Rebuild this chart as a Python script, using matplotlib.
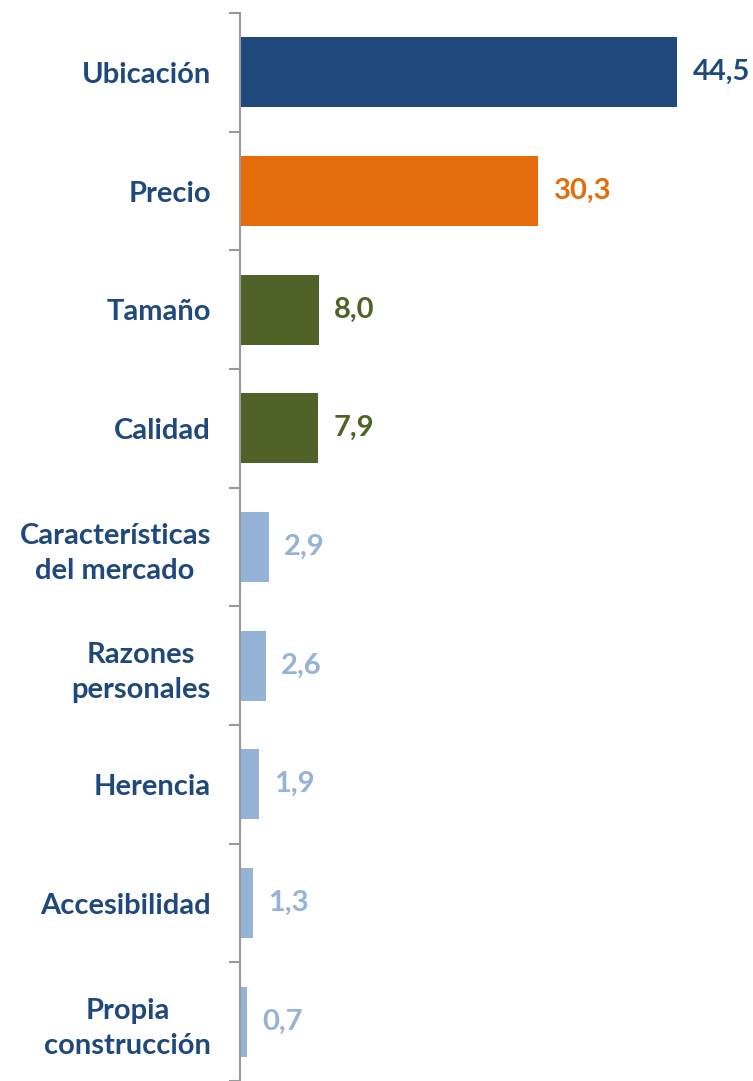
import numpy as np
import matplotlib.pyplot as plt

categories = ['Ubicación', 'Precio', 'Tamaño', 'Calidad',
              'Características\ndel mercado', 'Razones\npersonales',
              'Herencia', 'Accesibilidad', 'Propia\nconstrucción']
values = [44.5, 30.3, 8.0, 7.9, 2.9, 2.6, 1.9, 1.3, 0.7]
colors = ['#1F497D', '#E46C0A', '#4F6228', '#4F6228',
          '#95B3D7', '#95B3D7', '#95B3D7', '#95B3D7', '#95B3D7']

plt.rcParams['font.family'] = ['Lato', 'DejaVu Sans']

fig = plt.figure(figsize=(7.53, 10.81), dpi=100)
ax = fig.add_axes([240 / 753, 0, 513 / 753, 1068 / 1081])

y = np.arange(len(categories))
ax.barh(y, values, height=0.59, color=colors)
ax.set_ylim(len(categories) - 0.5, -0.5)
ax.set_xlim(0, 52.2)

for yi, v, c in zip(y, values, colors):
    ax.text(v + 1.6, yi, f'{v:.1f}'.replace('.', ','), va='center', ha='left',
            fontsize=21, fontweight='bold', color=c)

ax.set_yticks(y)
ax.set_yticklabels(categories, fontsize=21, fontweight='bold', color='#1F497D',
                   multialignment='center', linespacing=1.42)
ax.tick_params(axis='y', which='major', length=0, pad=21)
ax.set_yticks(np.arange(-0.5, len(categories), 1), minor=True)
ax.tick_params(axis='y', which='minor', length=8, width=1.5, color='#999999')

ax.set_xticks([])
for s in ['top', 'right', 'bottom']:
    ax.spines[s].set_visible(False)
ax.spines['left'].set_color('#999999')
ax.spines['left'].set_linewidth(1.5)

fig.savefig('out.png', dpi=100)
